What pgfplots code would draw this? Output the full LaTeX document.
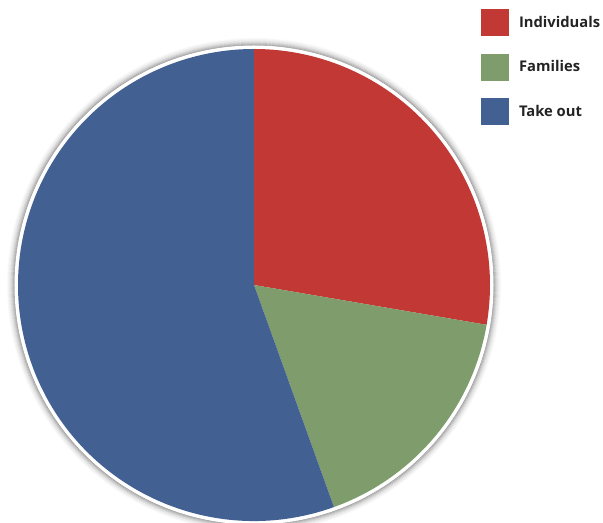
\documentclass[border=0pt]{standalone}
\usepackage{pgfplots}
\usepackage{pgfplotstable}
\pgfplotsset{compat=1.18}
\usepackage{fontspec}
\setmainfont{Open Sans}
\definecolor{cRed}{RGB}{193,56,52}
\definecolor{cGreen}{RGB}{127,156,108}
\definecolor{cBlue}{RGB}{67,96,146}
\definecolor{cText}{RGB}{35,35,35}
\pgfplotstableread{
label value
Individuals 27.7
Families 16.8
Takeout 55.5
}\piedata
\pgfplotstablegetelem{0}{value}\of\piedata \let\va\pgfplotsretval
\pgfplotstablegetelem{1}{value}\of\piedata \let\vb\pgfplotsretval
\pgfplotstablegetelem{2}{value}\of\piedata \let\vc\pgfplotsretval
\pgfmathsetmacro\tot{\va+\vb+\vc}
\pgfmathsetmacro\aA{90}
\pgfmathsetmacro\aB{90-\va/\tot*360}
\pgfmathsetmacro\aC{\aB-\vb/\tot*360}
\pgfmathsetmacro\aD{\aC-\vc/\tot*360}
\begin{document}
\begin{tikzpicture}
\begin{axis}[
  at={(0,0)}, anchor=south west,
  x=1bp, y=1bp, scale only axis,
  xmin=0, xmax=603, ymin=0, ymax=523,
  hide axis,
  legend style={at={(axis cs:481,514)}, anchor=north west, draw=none, fill=none,
    inner sep=0pt, row sep=18bp,
    font=\fontsize{14.8}{17}\selectfont\bfseries,
    text=cText,
    nodes={inner sep=0pt},
    /tikz/every odd column/.append style={column sep=10.5bp}},
  legend cell align=left,
]
% shadow
\draw[black, opacity=0.30, line width=1.2bp] (axis cs:254,238) circle[radius=239.5bp];
\draw[black, opacity=0.24, line width=1.2bp] (axis cs:254,238) circle[radius=240.5bp];
\draw[black, opacity=0.18, line width=1.2bp] (axis cs:254,238) circle[radius=241.5bp];
\draw[black, opacity=0.13, line width=1.2bp] (axis cs:254,238) circle[radius=242.5bp];
\draw[black, opacity=0.09, line width=1.2bp] (axis cs:254,238) circle[radius=243.5bp];
\draw[black, opacity=0.06, line width=1.2bp] (axis cs:254,238) circle[radius=244.5bp];
\draw[black, opacity=0.04, line width=1.2bp] (axis cs:254,238) circle[radius=245.5bp];
\draw[black, opacity=0.02, line width=1.2bp] (axis cs:254,238) circle[radius=246.5bp];
\fill[white] (axis cs:254,238) circle[radius=239.5bp];
\fill[cRed] (axis cs:254,238) -- ++(\aA:236bp) arc[start angle=\aA, end angle=\aB, radius=236bp] -- cycle;
\fill[cGreen] (axis cs:254,238) -- ++(\aB:236bp) arc[start angle=\aB, end angle=\aC, radius=236bp] -- cycle;
\fill[cBlue] (axis cs:254,238) -- ++(\aC:236bp) arc[start angle=\aC, end angle=\aD, radius=236bp] -- cycle;
\addlegendimage{legend image code/.code={\fill[cRed] (0bp,-13bp) rectangle (27bp,13bp);}}
\addlegendentry{Individuals}
\addlegendimage{legend image code/.code={\fill[cGreen] (0bp,-13bp) rectangle (27bp,13bp);}}
\addlegendentry{Families}
\addlegendimage{legend image code/.code={\fill[cBlue] (0bp,-13bp) rectangle (27bp,13bp);}}
\addlegendentry{Take out}
\end{axis}
\pgfresetboundingbox
\path (0,0) rectangle (603bp,523bp);
\end{tikzpicture}
\end{document}
